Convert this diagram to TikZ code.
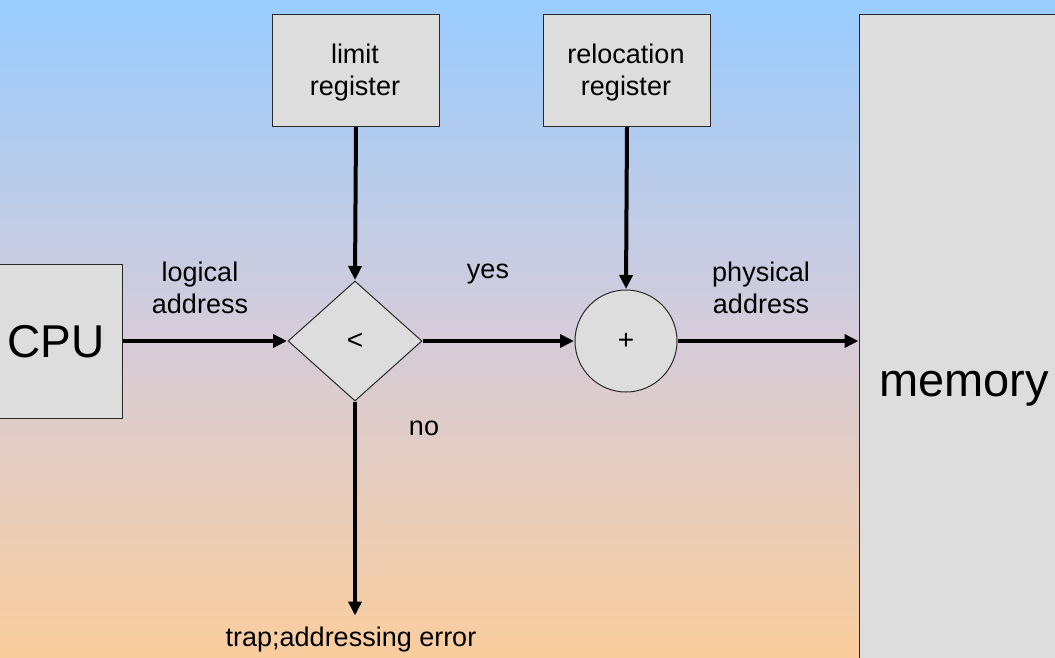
\documentclass[tikz,border=0pt]{standalone}
\usepackage{fontspec}
\setmainfont{Liberation Sans}
\usetikzlibrary{shapes.geometric,arrows.meta}
\definecolor{bgtop}{RGB}{153,204,255}
\definecolor{bgmid}{RGB}{212,204,218}
\definecolor{bgbot}{RGB}{250,205,158}
\definecolor{boxfill}{RGB}{221,221,221}
\definecolor{boxline}{RGB}{40,40,40}
\pgfdeclareverticalshading{bgsh}{100bp}{color(0bp)=(bgbot); color(25bp)=(bgbot); color(50bp)=(bgmid); color(75bp)=(bgtop); color(100bp)=(bgtop)}
\tikzset{
  box/.style={draw=boxline, line width=1pt, fill=boxfill, inner sep=0pt},
  lbl/.style={font=\fontsize{27}{32}\selectfont, align=center, inner sep=0pt},
  conn/.style={line width=4pt, -{Triangle[length=14pt,width=13pt]}, shorten >=0.5pt}
}
\begin{document}
\begin{tikzpicture}[x=1pt,y=-1pt]
\useasboundingbox (0,0) rectangle (1055,657);
\shade[shading=bgsh] (0,0) rectangle (1055,657);
\clip (0,0) rectangle (1055,657);
% boxes
\node[box, minimum width=130pt, minimum height=154pt, anchor=north east] (cpu) at (123,264) {};
\node[font=\fontsize{46}{50}\selectfont] at (56,342) {CPU};
\node[box, minimum width=167pt, minimum height=112pt, anchor=north west] (limit) at (272,14) {};
\node[lbl] at (355,73) {limit\\register};
\node[box, minimum width=167pt, minimum height=112pt, anchor=north west] (reloc) at (543,14) {};
\node[lbl] at (626,73) {relocation\\register};
\node[box, minimum width=210pt, minimum height=660pt, anchor=north west] (mem) at (859,14) {};
\node[font=\fontsize{47}{50}\selectfont] at (964,389) {memory};
\node[box, diamond, minimum width=134pt, minimum height=120pt, font=\fontsize{28}{32}\selectfont] (cmp) at (355,341) {<};
\node[box, circle, minimum size=102pt, font=\fontsize{28}{32}\selectfont] (add) at (626,341) {+};
\coordinate (trap) at (355,616);
% connectors
\draw[conn] (cpu.east |- cmp.west) -- (cmp.west);
\draw[conn] (limit.south) -- (cmp.north);
\draw[conn] (cmp.east) -- (add.west);
\draw[conn] (reloc.south) -- (add.north);
\draw[conn] (add.east) -- (mem.west |- add.east);
\draw[conn] (cmp.south) -- (trap);
% labels
\node[lbl] (la) at (200,288) {logical\\address};
\node[lbl] (yes) at (488,274) {yes};
\node[lbl] (pa) at (761,288) {physical\\address};
\node[lbl] (no) at (424,428) {no};
\node[lbl] (err) at (351,640) {trap;addressing error};
\end{tikzpicture}
\end{document}
